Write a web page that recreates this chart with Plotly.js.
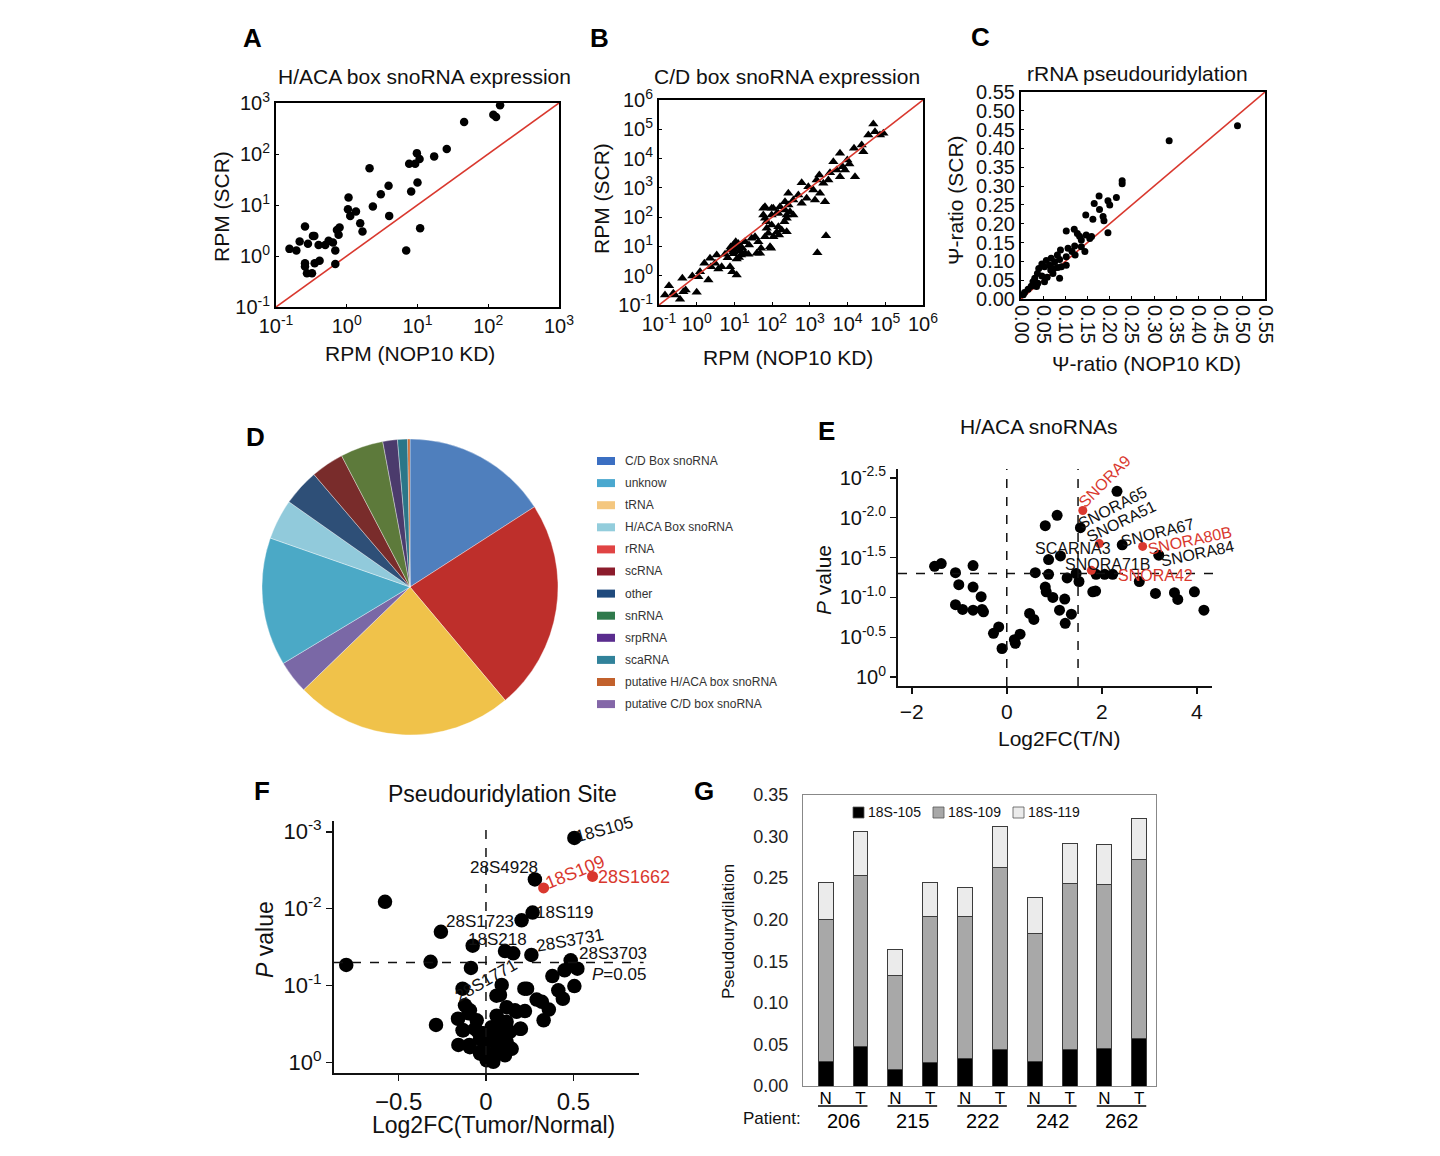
<!DOCTYPE html>
<html><head><meta charset="utf-8">
<script src="https://cdn.plot.ly/plotly-3.0.1.min.js"></script>
<style>body{margin:0;background:#fff}#chart{width:1440px;height:1156px}</style>
</head><body><div id="chart"></div>
<script>
// ---------- Panel A: H/ACA box snoRNA expression (RPM) ----------
const aKD  = [0.155,0.194,0.216,0.257,0.257,0.257,0.283,0.274,0.323,0.333,0.348,0.352,0.40,0.413,0.497,0.554,0.638,0.689,0.689,0.727,0.767,0.792,1.04,1.06,1.12,1.35,1.55,1.67,2.1,2.34,3.03,3.9,3.98,6.92,7.62,8.14,9.27,9.8,10.0,10.7,10.9,17.2,25.9,45.6,118,129,147];
const aSCR = [1.38,1.28,1.92,3.79,0.72,0.62,1.73,0.46,0.46,2.48,2.48,0.72,1.65,0.81,1.65,1.98,1.83,1.28,0.70,3.25,2.6,3.61,8.28,14.0,6.12,7.44,4.40,3.02,52.8,9.34,16.3,23.8,6.12,1.28,64.4,18.4,64.4,104,27.7,79.4,3.51,89.8,125,424,590,531,899];
const aRange = [0.1, 1000];

// ---------- Panel B: C/D box snoRNA expression (log10 RPM) ----------
const bLogKD  = [-0.735,-0.841,-0.62,-0.354,-0.293,-0.001,-0.381,-0.116,0.088,0.043,0.309,0.203,0.353,0.486,0.379,0.574,0.662,0.53,0.751,0.822,0.883,0.945,1.06,0.883,0.972,1.034,1.104,1.21,1.281,1.37,1.175,1.06,0.972,1.281,1.387,1.458,1.546,1.635,1.706,1.591,1.679,1.944,1.971,1.812,1.9,2.033,2.121,2.183,2.254,2.386,2.325,2.165,1.988,1.812,1.768,1.988,2.121,2.342,2.431,1.856,2.386,
  -0.443,-0.576,3.428,3.199,
  4.683,4.727,4.551,4.86,4.949,4.374,4.171,4.418,3.799,3.623,3.994,4.047,3.87,3.932,3.799,4.197,3.711,3.534,3.251,3.181,3.357,3.49,2.783,2.96,3.092,3.269,3.402,3.136,2.915,2.694,2.429,2.562,2.783,2.341,2.208,2.031,1.811,1.766,1.987,2.164,2.473,2.562,2.385,1.855,
  0.95,1.0,1.02,0.9,1.1,1.15,0.98,1.12];
const bLogSCR = [-0.34,-0.658,-0.601,-0.544,-0.487,-0.567,-0.089,-0.009,0.138,-0.032,-0.146,0.423,0.594,0.423,0.309,0.23,0.309,0.708,0.73,0.617,0.309,0.138,0.025,0.878,1.049,1.163,0.992,0.935,0.765,0.73,0.708,0.571,0.821,1.163,1.049,1.277,1.333,1.163,0.935,0.765,0.765,0.992,0.935,1.333,1.447,1.333,1.481,1.39,1.561,1.504,1.846,1.675,1.732,1.959,2.301,2.301,2.13,2.244,2.415,1.618,2.073,
  -0.806,-0.658,1.367,0.787,
  5.18,4.918,4.804,4.804,4.861,4.463,4.349,4.235,4.178,3.894,3.951,3.814,3.723,3.609,3.382,3.382,3.609,3.518,3.438,3.268,3.154,3.268,3.177,3.04,2.926,2.812,2.528,2.585,2.642,2.756,2.812,2.585,2.471,2.528,2.357,2.3,2.357,2.073,2.073,2.13,2.187,2.073,1.959,1.845,
  0.95,0.9,1.05,0.98,1.1,0.85,0.75,0.62];
const bRange = [0.1, 1e6];

// ---------- Panel C: rRNA pseudouridylation (Psi-ratio) ----------
const cKD  = [0.228,0.228,0.176,0.215,0.165,0.196,0.200,0.177,0.185,0.187,0.146,0.162,0.196,0.102,0.12,0.127,0.136,0.132,0.147,0.155,0.159,0.089,0.106,0.121,0.115,0.122,0.102,0.082,0.087,0.076,0.068,0.065,0.057,0.053,0.047,0.074,0.083,0.102,0.067,0.04,0.037,0.047,0.059,0.031,0.027,0.038,0.053,0.087,0.023,0.016,0.008,0.005,0.035,0.072,0.091,0.136,0.144,0.334,0.488];
const cSCR = [0.314,0.306,0.274,0.270,0.254,0.261,0.250,0.238,0.219,0.208,0.223,0.212,0.176,0.181,0.185,0.174,0.157,0.167,0.170,0.161,0.166,0.130,0.135,0.141,0.126,0.117,0.112,0.117,0.105,0.099,0.108,0.090,0.102,0.086,0.093,0.081,0.084,0.090,0.077,0.081,0.068,0.061,0.058,0.055,0.046,0.042,0.046,0.055,0.034,0.026,0.017,0.011,0.033,0.068,0.086,0.139,0.126,0.4206,0.460];
const cRange = [0, 0.55];

// ---------- Panel D: RNA class composition (pie, clockwise order) ----------
const pieLabels = ['C/D Box snoRNA','rRNA','tRNA','putative C/D box snoRNA','unknow','H/ACA Box snoRNA','other','scRNA','snRNA','srpRNA','scaRNA','putative H/ACA box snoRNA'];
const pieValues = [15.9,23.0,23.9,3.6,14.0,4.4,4.0,3.6,4.7,1.6,1.1,0.25];
const pieColors = ['#4f7fbd','#be2f2b','#f0c24a','#7a68a6','#4ba9c6','#91cadb','#2e4f77','#792c2b','#5d7a3b','#4b3b6c','#2b7688','#c9652b'];
const legendLabels = ['C/D Box snoRNA','unknow','tRNA','H/ACA Box snoRNA','rRNA','scRNA','other','snRNA','srpRNA','scaRNA','putative H/ACA box snoRNA','putative C/D box snoRNA'];
const legendColors = ['#3b6fc2','#4aa8cf','#f4c77f','#93cddc','#e04444','#8c1c2c','#1f4a7d','#2f7a4c','#5a2d8e','#31829a','#c2612c','#8467a8'];

// ---------- Panel E: H/ACA snoRNAs volcano (-log10 P) ----------
const eFC  = [-1.52,-1.38,-1.08,-1.01,-1.08,-0.93,-0.71,-0.71,-0.71,-0.54,-0.52,-0.49,-0.28,-0.17,-0.10,0.16,0.18,0.28,0.48,0.57,0.60,0.81,0.81,0.83,0.88,0.88,0.97,1.06,1.13,1.11,1.22,1.23,1.27,1.36,1.46,1.52,1.55,1.81,1.87,1.88,2.06,2.23,2.43,2.79,3.13,3.20,3.53,3.60,3.95,4.15,2.32];
const eNLP = [1.39,1.425,1.31,1.16,0.91,0.85,1.40,1.13,0.84,1.01,0.85,0.82,0.55,0.63,0.36,0.47,0.425,0.54,0.80,0.725,1.31,1.90,1.13,1.07,1.475,1.29,1.0,2.03,1.52,0.84,0.98,0.675,1.245,0.79,1.30,1.20,1.875,1.07,1.08,1.29,1.29,1.29,1.66,1.20,1.05,1.53,1.06,0.975,1.07,0.84,2.33];
const eRedFC  = [1.60,1.95,2.86,1.78];
const eRedNLP = [2.09,1.675,1.64,1.34];
const eTickVals = [0,0.5,1,1.5,2,2.5];
const eTickText = ['10<sup>0</sup>','10<sup>-0.5</sup>','10<sup>-1.0</sup>','10<sup>-1.5</sup>','10<sup>-2.0</sup>','10<sup>-2.5</sup>'];
const eLabels = [
  {t:'SNORA9',  x:2.06, y:2.45, a:-45, red:true},
  {t:'SNORA26', x:2.85, y:2.62, a:-43},
  {t:'SNORA65', x:2.23, y:2.13, a:-27},
  {t:'SNORA51', x:2.41, y:1.95, a:-26},
  {t:'SNORA67', x:3.18, y:1.82, a:-14},
  {t:'SNORA80B',x:3.85, y:1.72, a:-12, red:true},
  {t:'SNORA84', x:4.02, y:1.55, a:-12},
  {t:'SCARNA3', x:1.40, y:1.61, a:0},
  {t:'SNORA71B',x:2.11, y:1.41, a:0},
  {t:'SNORA42', x:3.14, y:1.27, a:0, red:true}
];

// ---------- Panel F: Pseudouridylation site volcano (-log10 P) ----------
const fFC  = [0.506,0.28,0.267,0.204,-0.578,-0.258,-0.80,-0.317,-0.076,0.109,0.156,0.26,0.485,-0.086,0.523,0.45,0.38,-0.134,0.09,0.06,0.22,0.235,0.506,0.414,0.44,0.29,0.32,0.36,0.33,-0.12,-0.10,-0.16,-0.053,-0.286,-0.134,-0.044,-0.158,-0.095,-0.034,0.061,0.118,0.166,0.223,0.118,0.20,0.10,0.042,0.004,0.118,0.147,0.109,0.004,-0.034,0.042,0.07,-0.015,0.032,0.137,-0.063,0.042,0.09,-0.015,0.08,
  -0.092,-0.025,0.08,0.175,0.195,0.099,0.061,0.023,-0.13,-0.092];
const fNLP = [2.92,2.38,1.95,1.85,2.09,1.70,1.27,1.31,1.52,1.45,1.42,1.40,1.33,1.23,1.22,1.20,1.125,0.96,1.01,0.87,0.96,0.96,0.995,0.94,0.83,0.82,0.79,0.69,0.55,0.745,0.64,0.57,0.55,0.49,0.42,0.40,0.23,0.23,0.31,0.61,0.72,0.68,0.67,0.53,0.44,0.44,0.355,0.27,0.27,0.18,0.095,0.03,0.117,0.095,0.20,0.38,0.46,0.40,0.44,0.01,0.53,0.18,0.27,
  0.20,0.117,0.88,0.66,0.44,0.29,0.16,0.073,0.42,0.68];
const fRedFC  = [0.33,0.61];
const fRedNLP = [2.27,2.42];
const fTickVals = [0,1,2,3];
const fTickText = ['10<sup>0</sup>','10<sup>-1</sup>','10<sup>-2</sup>','10<sup>-3</sup>'];
const pCut = -Math.log10(0.05);
const fLabels = [
  {t:'18S105',  x:0.676, y:3.03, a:-15},
  {t:'28S4928', x:0.105, y:2.54, a:0},
  {t:'18S109',  x:0.51,  y:2.48, a:-22, red:true},
  {t:'28S1662', x:0.845, y:2.41, a:0, red:true},
  {t:'18S119',  x:0.45,  y:1.95, a:0},
  {t:'28S1723', x:-0.034,y:1.835,a:0},
  {t:'18S218',  x:0.065, y:1.60, a:0},
  {t:'28S3731', x:0.48,  y:1.59, a:-10},
  {t:'28S3703', x:0.725, y:1.415,a:0},
  {t:'28S1771', x:0.0,   y:1.07, a:-30}
];

// ---------- Panel G: stacked pseudouridylation ----------
const gCats = ['N','T','N','T','N','T','N','T','N','T'];
const gPatients = ['206','215','222','242','262'];
const gSeries = ['18S-105','18S-109','18S-119'];
const g105 = [0.030,0.047,0.020,0.028,0.033,0.044,0.030,0.044,0.045,0.057];
const g109 = [0.170,0.206,0.113,0.176,0.171,0.219,0.154,0.199,0.197,0.215];
const g119 = [0.045,0.053,0.031,0.041,0.035,0.049,0.043,0.049,0.048,0.050];
const gColors = ['#000000','#a8a8a8','#ebebeb'];

// ---------- helpers ----------
const W = 1440, H = 1156;
const fx = p => p / W, fy = p => 1 - p / H;
const FONT = '"Liberation Sans", Arial, Helvetica, sans-serif';
const sup = e => '10<sup>' + e + '</sup>';
const RED = '#d9382e';

const boxAxis = (extra) => Object.assign({
  showline:true, mirror:true, linecolor:'#000', linewidth:2, ticks:'inside', ticklen:3, tickcolor:'#000',
  showgrid:false, zeroline:false, tickfont:{size:20, color:'#111'}
}, extra);
const openAxis = (extra) => Object.assign({
  showline:true, mirror:false, linecolor:'#111', linewidth:2, ticks:'outside', ticklen:6, tickwidth:1.5, tickcolor:'#111',
  showgrid:false, zeroline:false, tickfont:{size:21, color:'#111'}
}, extra);

const traces = [];
// A
traces.push({type:'scatter', mode:'lines', x:aRange, y:aRange, xaxis:'x', yaxis:'y', line:{color:RED, width:1.6}, showlegend:false, hoverinfo:'skip'});
traces.push({type:'scatter', mode:'markers', x:aKD, y:aSCR, xaxis:'x', yaxis:'y', marker:{color:'#000', size:8.5}, showlegend:false});
// B
traces.push({type:'scatter', mode:'markers', x:bLogKD.map(v=>Math.pow(10,v)), y:bLogSCR.map(v=>Math.pow(10,v)), xaxis:'x2', yaxis:'y2', marker:{color:'#000', size:9, symbol:'triangle-up'}, showlegend:false});
traces.push({type:'scatter', mode:'lines', x:bRange, y:bRange, xaxis:'x2', yaxis:'y2', line:{color:RED, width:1.6}, showlegend:false, hoverinfo:'skip'});
// C
traces.push({type:'scatter', mode:'lines', x:cRange, y:cRange, xaxis:'x3', yaxis:'y3', line:{color:RED, width:1.6}, showlegend:false, hoverinfo:'skip'});
traces.push({type:'scatter', mode:'markers', x:cKD, y:cSCR, xaxis:'x3', yaxis:'y3', marker:{color:'#000', size:7}, showlegend:false});
// D
traces.push({type:'pie', labels:pieLabels, values:pieValues, sort:false, direction:'clockwise', rotation:0,
  marker:{colors:pieColors, line:{color:'rgba(255,255,255,0.6)', width:0.6}}, textinfo:'none', hoverinfo:'label+percent',
  showlegend:false, domain:{x:[fx(262),fx(558)], y:[fy(735),fy(439)]}});
// E
traces.push({type:'scatter', mode:'markers', x:eFC, y:eNLP, xaxis:'x4', yaxis:'y4', marker:{color:'#000', size:11}, showlegend:false});
traces.push({type:'scatter', mode:'markers', x:eRedFC, y:eRedNLP, xaxis:'x4', yaxis:'y4', marker:{color:RED, size:9}, showlegend:false});
// F
traces.push({type:'scatter', mode:'markers', x:fFC, y:fNLP, xaxis:'x5', yaxis:'y5', marker:{color:'#000', size:14.5}, showlegend:false});
traces.push({type:'scatter', mode:'markers', x:fRedFC, y:fRedNLP, xaxis:'x5', yaxis:'y5', marker:{color:RED, size:11}, showlegend:false});
// G
const gX = gCats.map((_, i) => i);
const barLine = {color:'#3c3c3c', width:1};
[g105, g109, g119].forEach((vals, k) => traces.push({type:'bar', name:gSeries[k], x:gX, y:vals, xaxis:'x6', yaxis:'y6', width:0.43,
  marker:{color:gColors[k], line:barLine}, showlegend:false}));

// ---------- annotations ----------
const ann = [];
const txt = (text, x, y, size, opts) => ann.push(Object.assign({text, x:fx(x), y:fy(y), xref:'paper', yref:'paper', showarrow:false,
  xanchor:'center', yanchor:'middle', font:{size, color:'#111', family:FONT}}, opts || {}));
// panel letters
[['A',253,38],['B',599,38],['C',980,37],['D',255,437],['E',826,431],['F',262,791],['G',704,791]].forEach(l =>
  txt('<b>'+l[0]+'</b>', l[1], l[2], 26, {font:{size:26, color:'#000', family:FONT}}));
// titles
txt('H/ACA box snoRNA expression', 424, 77, 21);
txt('C/D box snoRNA expression', 787, 77, 21);
txt('rRNA pseudouridylation', 1137, 74, 21);
txt('H/ACA snoRNAs', 1039, 427, 21);
txt('Pseudouridylation Site', 502, 794, 23);
// axis titles
txt('RPM (NOP10 KD)', 410, 354, 21);
txt('RPM (SCR)', 221, 207, 21, {textangle:-90});
txt('RPM (NOP10 KD)', 788, 357, 21);
txt('RPM (SCR)', 601, 199, 21, {textangle:-90});
txt('Ψ-ratio (NOP10 KD)', 1146, 364, 21);
txt('Ψ-ratio (SCR)', 956, 200, 21, {textangle:-90});
txt('Log2FC(T/N)', 1059, 738, 21);
txt('<i>P</i> value', 823, 580, 21, {textangle:-90});
txt('Log2FC(Tumor/Normal)', 493, 1125, 23);
txt('<i>P</i> value', 265, 940, 23, {textangle:-90});
txt('Pseudourydilation', 728, 932, 17, {textangle:-90});
txt('Patient:', 772, 1118, 17);
// G patient numbers
gPatients.forEach((p, i) => ann.push({text:p, x:2*i+0.5, y:fy(1121), xref:'x6', yref:'paper', showarrow:false,
  xanchor:'center', yanchor:'middle', font:{size:20, color:'#000', family:FONT}}));
// G legend text
gSeries.forEach((s, k) => ann.push({text:s, x:fx(866 + k*80), y:fy(812), xref:'paper', yref:'paper', showarrow:false,
  xanchor:'left', yanchor:'middle', font:{size:14, color:'#111', family:FONT}}));
// E labels
eLabels.forEach(l => ann.push({text:l.t, x:l.x, y:l.y, xref:'x4', yref:'y4', showarrow:false, textangle:l.a,
  xanchor:'center', yanchor:'middle', font:{size:16, color:l.red ? RED : '#111', family:FONT}}));
// F labels
fLabels.forEach(l => ann.push({text:l.t, x:l.x, y:l.y, xref:'x5', yref:'y5', showarrow:false, textangle:l.a,
  xanchor:'center', yanchor:'middle', font:{size:l.red ? 18 : 17, color:l.red ? RED : '#111', family:FONT}}));
ann.push({text:'<i>P</i>=0.05', x:0.76, y:1.14, xref:'x5', yref:'y5', showarrow:false, xanchor:'center', yanchor:'middle',
  font:{size:17, color:'#111', family:FONT}});
// D legend text
legendLabels.forEach((l, i) => ann.push({text:l, x:fx(623), y:fy(461 + i*22.1), xref:'paper', yref:'paper', showarrow:false,
  xanchor:'left', yanchor:'middle', font:{size:12, color:'#333', family:FONT}}));

// ---------- shapes ----------
const shapes = [];
const dash = {color:'#111', width:1.5, dash:'dash'};
// E thresholds
[0, 1.5].forEach(v => shapes.push({type:'line', xref:'x4', yref:'y4 domain', x0:v, x1:v, y0:0, y1:1, line:dash}));
shapes.push({type:'line', xref:'x4 domain', yref:'y4', x0:0, x1:1.02, y0:pCut, y1:pCut, line:dash});
// F thresholds
shapes.push({type:'line', xref:'x5', yref:'y5 domain', x0:0, x1:0, y0:0, y1:1, line:dash});
shapes.push({type:'line', xref:'x5 domain', yref:'y5', x0:0, x1:1.015, y0:pCut, y1:pCut, line:dash});
// G patient underlines
gPatients.forEach((p, i) => shapes.push({type:'line', xref:'x6', yref:'paper', x0:2*i-0.22, x1:2*i+1.2, y0:fy(1106), y1:fy(1106),
  line:{color:'#000', width:1.5}}));
// G legend swatches
gColors.forEach((c, k) => shapes.push({type:'rect', xref:'paper', yref:'paper', x0:fx(853 + k*80), x1:fx(864 + k*80),
  y0:fy(818), y1:fy(807), fillcolor:c, line:{color:'#555', width:0.8}}));
// D legend swatches
legendColors.forEach((c, i) => shapes.push({type:'rect', xref:'paper', yref:'paper', x0:fx(597), x1:fx(615),
  y0:fy(461 + i*22.1 + 4), y1:fy(461 + i*22.1 - 4), fillcolor:c, line:{width:0}}));

const logTicks = (lo, hi) => { const v=[], t=[]; for (let e=lo; e<=hi; e++){ v.push(Math.pow(10,e)); t.push(sup(e)); } return {tickvals:v, ticktext:t}; };

const layout = {
  width:W, height:H, margin:{l:0,r:0,t:0,b:0}, paper_bgcolor:'#fff', plot_bgcolor:'rgba(0,0,0,0)',
  font:{family:FONT, color:'#111'}, barmode:'stack', bargap:0.5, showlegend:false,
  xaxis: boxAxis(Object.assign({domain:[fx(276),fx(559)], anchor:'y', type:'log', range:[-1,3]}, logTicks(-1,3))),
  yaxis: boxAxis(Object.assign({domain:[fy(307),fy(103)], anchor:'x', type:'log', range:[-1,3]}, logTicks(-1,3))),
  xaxis2: boxAxis(Object.assign({domain:[fx(659),fx(923)], anchor:'y2', type:'log', range:[-1,6]}, logTicks(-1,6))),
  yaxis2: boxAxis(Object.assign({domain:[fy(305),fy(100)], anchor:'x2', type:'log', range:[-1,6]}, logTicks(-1,6))),
  xaxis3: boxAxis({domain:[fx(1021),fx(1265)], anchor:'y3', range:cRange, tickmode:'linear', tick0:0, dtick:0.05, tickformat:'.2f', tickangle:90}),
  yaxis3: boxAxis({domain:[fy(299),fy(92)], anchor:'x3', range:cRange, tickmode:'linear', tick0:0, dtick:0.05, tickformat:'.2f'}),
  xaxis4: openAxis({domain:[fx(898),fx(1212)], anchor:'y4', range:[-2.29,4.32], tickvals:[-2,0,2,4]}),
  yaxis4: openAxis({domain:[fy(686),fy(469)], anchor:'x4', range:[-0.11,2.61], tickvals:eTickVals, ticktext:eTickText, tickfont:{size:20,color:'#111'}}),
  xaxis5: openAxis({domain:[fx(334),fx(639)], anchor:'y5', range:[-0.87,0.876], tickvals:[-0.5,0,0.5], tickfont:{size:24,color:'#111'}}),
  yaxis5: openAxis({domain:[fy(1073),fy(821)], anchor:'x5', range:[-0.135,3.14], tickvals:fTickVals, ticktext:fTickText, tickfont:{size:22,color:'#111'}}),
  xaxis6: {domain:[fx(803),fx(1156)], anchor:'y6', range:[-0.65,9.48], tickvals:gX, ticktext:gCats, ticks:'', showline:true, mirror:true,
           linecolor:'#888', linewidth:1, showgrid:false, zeroline:false, tickfont:{size:17,color:'#000'}, ticklabelstandoff:-3},
  yaxis6: {domain:[fy(1086),fy(795)], anchor:'x6', range:[0,0.35], tickmode:'linear', tick0:0, dtick:0.05, tickformat:'.2f', ticks:'',
           showline:true, mirror:true, linecolor:'#888', linewidth:1, showgrid:false, zeroline:false, tickfont:{size:18,color:'#222'},
           ticklabelstandoff:10},
  annotations:ann, shapes:shapes
};

Plotly.newPlot('chart', traces, layout, {staticPlot:true, displayModeBar:false});
</script></body></html>
